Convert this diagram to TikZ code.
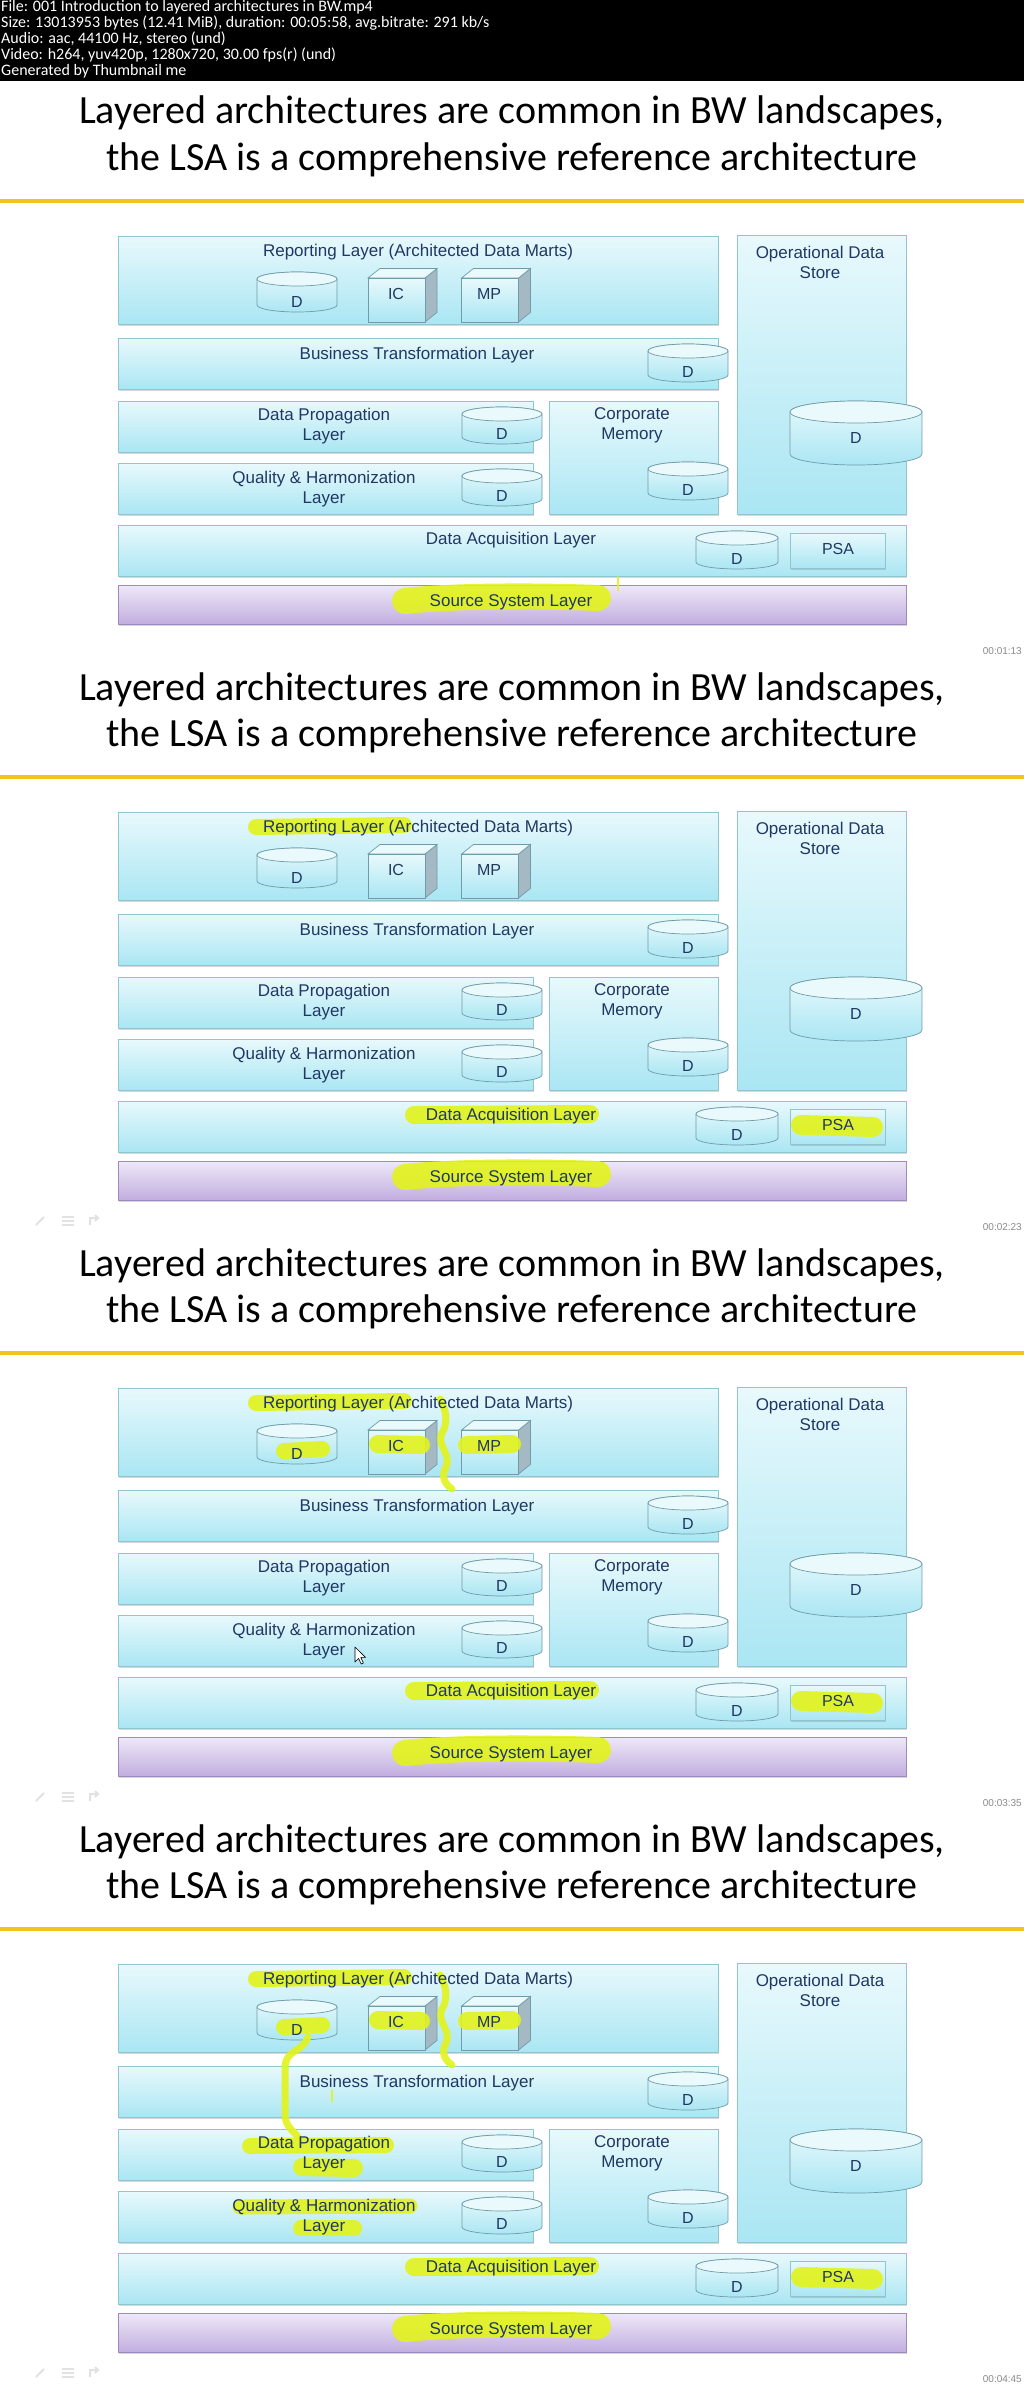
\documentclass[tikz,border=0pt]{standalone}
\usepackage{fontspec}
\setmainfont{Liberation Sans}
\newfontfamily\calfont{Carlito}
\usetikzlibrary{positioning, shadows}

\definecolor{inkblue}{HTML}{203864}
\definecolor{tierline}{HTML}{8FC4D1}
\definecolor{tiertop}{HTML}{E8F9FC}
\definecolor{tierbot}{HTML}{AAE6F3}
\definecolor{srctop}{HTML}{EEE8F7}
\definecolor{srcbot}{HTML}{C2AEE0}
\definecolor{srcline}{HTML}{9D8ABF}
\definecolor{drumline}{HTML}{6F9CAA}
\definecolor{drumtop}{HTML}{E9F9FC}
\definecolor{sidegrey}{HTML}{A4B9C4}
\definecolor{rulegold}{HTML}{F0C419}
\definecolor{marker}{HTML}{E2F31B}
\definecolor{stampgrey}{HTML}{8A8A8A}
\definecolor{icongrey}{HTML}{E2E2E2}

\tikzset{
    tier/.style = {draw=tierline, line width=0.8pt, top color=tiertop, bottom color=tierbot, inner sep=0pt,
        drop shadow={shadow xshift=0.8pt, shadow yshift=-1.6pt, opacity=0.3}},
    srctier/.style = {tier, draw=srcline, top color=srctop, bottom color=srcbot},
    psabox/.style = {tier, minimum width=95pt, minimum height=35pt},
    lbl/.style = {font=\fontsize{17}{20}\selectfont, text=inkblue, align=center, inner sep=0pt},
    drumtag/.style = {font=\fontsize{16}{18}\selectfont, text=inkblue, inner sep=0pt},
    headline/.style = {font=\calfont\fontsize{40}{44}\selectfont, anchor=base, inner sep=0pt},
    infoline/.style = {font=\calfont\fontsize{16}{16}\selectfont, text=white, anchor=base west, inner sep=0pt},
    timestamp/.style = {font=\fontsize{10}{12}\selectfont, text=stampgrey, anchor=east, inner sep=0pt},
    goldrule/.style = {draw=rulegold, line width=4pt},
    drumbody/.style = {draw=drumline, line width=0.7pt, top color=tiertop, bottom color=tierbot},
    drumcap/.style = {draw=drumline, line width=0.7pt, fill=drumtop},
    cubefront/.style = {draw=drumline, line width=0.7pt, top color=tiertop, bottom color=tierbot},
    cubetop/.style = {draw=drumline, line width=0.7pt, fill=drumtop},
    cubeside/.style = {draw=drumline, line width=0.7pt, fill=sidegrey},
    hilite/.style = {draw=marker, line width=#1, line cap=round, line join=round, opacity=0.9},
    hilite/.default = 15pt,
    pics/drum/.style n args={3}{code={
        \path[drumbody] (-#1/2,0) -- (-#1/2,#2-2*#3)
            arc[start angle=180, end angle=360, x radius=#1*0.5pt, y radius=#3*1pt]
            -- (#1/2,0)
            arc[start angle=0, end angle=180, x radius=#1*0.5pt, y radius=#3*1pt] -- cycle;
        \path[drumcap] (0,0) ellipse[x radius=#1*0.5pt, y radius=#3*1pt];
    }},
    pics/cube/.style n args={3}{code={
        \path[cubeside] (#1/2,-#2/2) -- ++(#3,-0.8*#3) -- ++(0,#2) -- (#1/2,#2/2) -- cycle;
        \path[cubetop] (-#1/2,-#2/2) -- ++(#3,-0.8*#3) -- ++(#1,0) -- (#1/2,-#2/2) -- cycle;
        \path[cubefront] (-#1/2,-#2/2) rectangle (#1/2,#2/2);
    }}
}

% highlighter strokes, reused from one frame to the next
\newcommand\hlsource{%
    \draw[hilite=26pt] (405,520) .. controls (460,514) and (550,515) .. (598,517);}
\newcommand\hlreport{%
    \draw[hilite=16pt] (256,170) -- (404,168);
    \draw[hilite=18pt] (414,458) -- (590,457);
    \draw[hilite=20pt] (801,468) -- (873,470);
    \hlsource}
\newcommand\hlcubes{%
    \draw[hilite=16pt] (284,218) -- (322,216);
    \draw[hilite=18pt] (378,211) -- (421,212);
    \draw[hilite=18pt] (467,212) -- (512,211);
    \draw[hilite=7pt] (440,166) .. controls (448,180) and (447,192) .. (442,200)
        .. controls (436,212) and (452,222) .. (446,234) .. controls (440,244) and (446,252) .. (452,256);}
\newcommand\hllower{%
    \draw[hilite=7pt] (308,228) .. controls (302,244) and (286,240) .. (285,258) -- (285,305)
        .. controls (285,318) and (294,322) .. (298,328);
    \draw[hilite=16pt] (250,337) -- (386,336);
    \draw[hilite=18pt] (302,358) -- (354,359);
    \draw[hilite=15pt] (240,398) -- (410,397);
    \draw[hilite=16pt] (301,419) -- (354,419);
    \draw[hilite=2pt] (332,281) -- (332,292);}

% one frame of the slide: #1 name prefix, #2 top, #3 time, #4 highlighter
\newcommand\lsaslide[4]{%
\begin{scope}[shift={(0,#2)}, name prefix=#1-]
    % title
    \node[headline] (head1) at (512,43) {Layered architectures are common in BW landscapes,};
    \node[headline] (head2) at (512,89.5) {the LSA is a comprehensive reference architecture};
    \draw[goldrule] (0,119.5) -- (1024,119.5);

    % layers
    \node[tier, minimum width=600pt, minimum height=88pt] (rep) at (418,199) {};
    \node[tier, minimum width=169pt, minimum height=279pt] (ods) at (821.5,293.5) {};
    \node[tier, minimum width=600pt, minimum height=51pt] (bt) at (418,282.5) {};
    \node[tier, minimum width=415pt, minimum height=51pt] (dp) at (325.5,345.5) {};
    \node[tier, minimum width=169pt, minimum height=113pt] (cm) at (633.5,376.5) {};
    \node[tier, minimum width=415pt, minimum height=51pt] (qh) at (325.5,407.5) {};
    \node[tier, minimum width=788pt, minimum height=51pt] (da) at (512,469.5) {};
    \node[srctier, minimum width=788pt, minimum height=39pt] (ss) at (512,523.5) {};

    % stores
    \pic at (297,198) {drum={80}{40}{7}};
    \pic at (396.5,219) {cube={57}{44}{12}};
    \pic at (490,219) {cube={57}{44}{12}};
    \pic at (688,270) {drum={80}{38}{7}};
    \pic at (502,333) {drum={80}{37}{7}};
    \pic at (502,395) {drum={80}{37}{7}};
    \pic at (688,388) {drum={80}{38}{7}};
    \pic at (856,331) {drum={132}{64}{11}};
    \pic at (737,457) {drum={82}{38}{7}};
    \node[psabox] (psa) at (838,469.5) {};

    % highlighter
    #4

    % texts
    \node[lbl] (repT) at (418,171) {Reporting Layer (Architected Data Marts)};
    \node[lbl] (odsT) at (820,181) {Operational Data\\Store};
    \node[lbl] (btT) at (417,274) {Business Transformation Layer};
    \node[lbl] (dpT) at (324,345) {Data Propagation\\Layer};
    \node[lbl] (cmT) at (632,344) {Corporate\\Memory};
    \node[lbl] (qhT) at (324,408) {Quality \& Harmonization\\Layer};
    \node[lbl] (daT) at (511,459) {Data Acquisition Layer};
    \node[lbl] (ssT) at (511,521) {Source System Layer};
    \node[drumtag] (repD) at (297,221) {D};
    \node[drumtag] (icT) at (396,213) {IC};
    \node[drumtag] (mpT) at (489,213) {MP};
    \node[drumtag] (btD) at (688,291) {D};
    \node[drumtag] (dpD) at (502,353) {D};
    \node[drumtag] (qhD) at (502,415) {D};
    \node[drumtag] (cmD) at (688,409) {D};
    \node[drumtag] (odsD) at (856,357) {D};
    \node[drumtag] (daD) at (737,478) {D};
    \node[drumtag] (psaT) at (838,468) {PSA};
    \node[timestamp] (time) at (1022,570) {#3};
\end{scope}}

\begin{document}
\begin{tikzpicture}[x=1pt, y=-1pt]
\useasboundingbox (0,0) rectangle (1024,2387);
\fill[white] (0,0) rectangle (1024,2387);

% file info band
\fill[black] (0,0) rectangle (1024,81);
\node[infoline] (info1) at (1,12) {File: 001 Introduction to layered architectures in BW.mp4};
\node[infoline] (info2) at (1,28) {Size: 13013953 bytes (12.41 MiB), duration: 00:05:58, avg.bitrate: 291 kb/s};
\node[infoline] (info3) at (1,44) {Audio: aac, 44100 Hz, stereo (und)};
\node[infoline] (info4) at (1,60) {Video: h264, yuv420p, 1280x720, 30.00 fps(r) (und)};
\node[infoline] (info5) at (1,76) {Generated by Thumbnail me};

% the four frames
\lsaslide{fa}{81}{00:01:13}{\hlsource \draw[hilite=2pt] (618,496) -- (618,509);}
\lsaslide{fb}{657}{00:02:23}{\hlreport}
\lsaslide{fc}{1233}{00:03:35}{\hlreport \hlcubes}
\lsaslide{fd}{1809}{00:04:45}{\hlreport \hlcubes \hllower}

% mouse pointer in frame three
\draw[fill=white, line width=0.6pt, line join=round] (355,1647) -- ++(0,15) -- ++(3.6,-3.6) -- ++(2.6,5.6)
    -- ++(2.2,-1) -- ++(-2.6,-5.6) -- ++(4.8,0) -- cycle;

% faint slide tools, lower left
\foreach \fy in {657,1233,1809}{
    \begin{scope}[shift={(0,\fy)}, draw=icongrey, line width=2pt]
        \draw (36,568) -- (44,560);
        \draw (62,560) -- (74,560) (62,564) -- (74,564) (62,568) -- (74,568);
        \draw (90,568) -- (90,561) -- (98,561) (95,558) -- (98,561) -- (95,564);
    \end{scope}}
\end{tikzpicture}
\end{document}
